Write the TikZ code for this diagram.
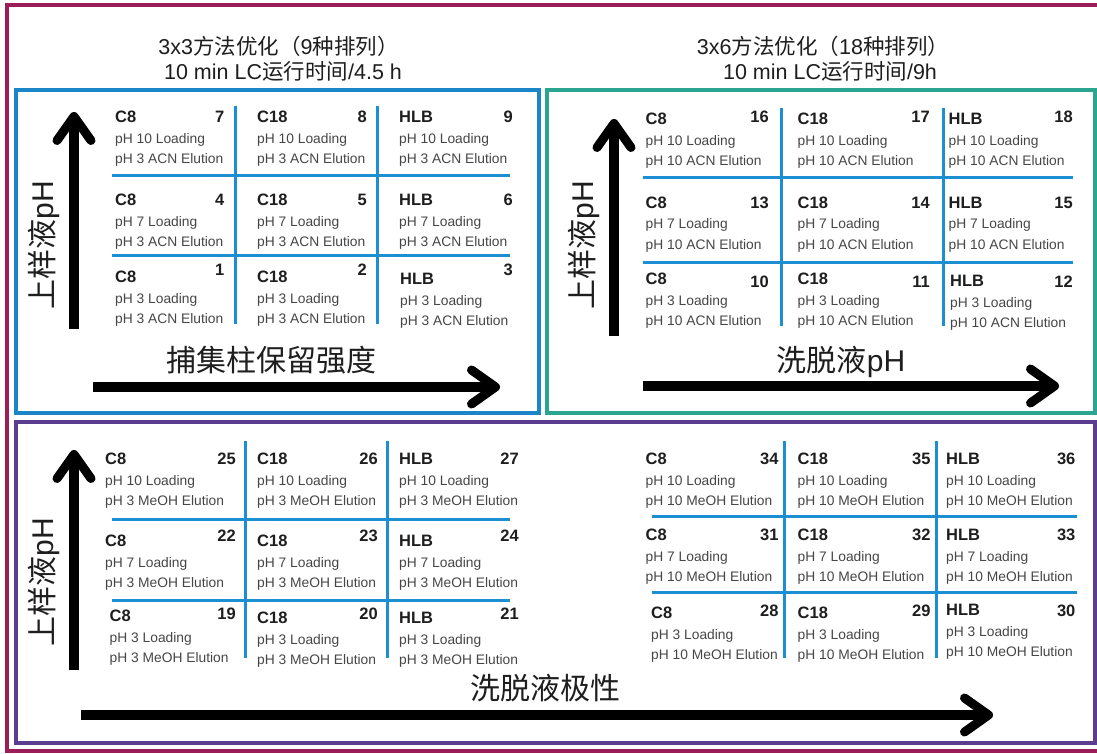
\documentclass[tikz,border=0pt]{standalone}
\usepackage{fontspec}
\setmainfont{Liberation Sans}
\newfontfamily\cjk{Noto Sans CJK SC}
\usetikzlibrary{arrows.meta}
\definecolor{frameM}{RGB}{155,29,90}
\definecolor{frameB}{RGB}{26,134,199}
\definecolor{frameT}{RGB}{42,165,143}
\definecolor{frameP}{RGB}{91,60,142}
\definecolor{gridB}{RGB}{27,143,210}
\definecolor{ink}{RGB}{30,30,30}
\definecolor{soft}{RGB}{70,70,70}
\newcommand{\cellset}[9]{%
  \node[lbl] (#1t) at (#2,#3) {#6};
  \node[num] (#1n) at (#4,#5) {#7};
  \node[txt] (#1a) at (#2,#3+22) {#8};
  \node[txt] (#1b) at (#2,#3+42) {#9};
}
\begin{document}
\begin{tikzpicture}[x=1pt,y=-1pt,
  lbl/.style={anchor=base west,inner sep=0pt,yshift=-6pt,font=\fontsize{16.5}{18}\selectfont\bfseries,text=ink},
  num/.style={anchor=base east,inner sep=0pt,yshift=-6pt,font=\fontsize{16.5}{18}\selectfont\bfseries,text=ink},
  txt/.style={anchor=base west,inner sep=0pt,yshift=-5pt,font=\fontsize{13.8}{15}\selectfont,text=soft},
  title/.style={anchor=base,inner sep=0pt,yshift=-7.7pt,font=\fontsize{21.5}{26}\selectfont,text=ink},
  axlabel/.style={anchor=base,inner sep=0pt,yshift=-11pt,font=\fontsize{30}{34}\selectfont,text=ink},
  vlabel/.style={anchor=center,inner sep=0pt,rotate=90,font=\fontsize{30}{34}\selectfont,text=ink},
  panel/.style={line width=3.2pt},
  gridline/.style={line width=3pt,draw=gridB},
  axis/.style={line width=9.5pt,draw=black,-{Straight Barb[length=24pt,width=34pt,line width=9pt,round]}}
]
\useasboundingbox (0,0) rectangle (1097,754);
\fill[white] (0,0) rectangle (1097,754);

% frames
\draw[panel,draw=frameM] (7,5) rectangle (1104,751);
\draw[panel,draw=frameB] (16,90) rectangle (539,413);
\draw[panel,draw=frameT] (547,90) rectangle (1095,413);
\draw[panel,draw=frameP] (16,422) rectangle (1095,743);

% titles
\node[title] (t1a) at (278.5,47) {3x3{\cjk 方法优化（}9{\cjk 种排列）}};
\node[title] (t1b) at (283,72) {10 min LC{\cjk 运行时间}/4.5 h};
\node[title] (t2a) at (823,47) {3x6{\cjk 方法优化（}18{\cjk 种排列）}};
\node[title] (t2b) at (830,72) {10 min LC{\cjk 运行时间}/9h};

% axis labels
\node[axlabel] (ax1) at (271,360) {\cjk 捕集柱保留强度};
\node[axlabel] (ax2) at (841,360) {{\cjk 洗脱液}pH};
\node[axlabel] (ax3) at (545.5,688) {\cjk 洗脱液极性};
\node[vlabel] (vy1) at (44,245) {{\cjk 上样液}pH};
\node[vlabel] (vy2) at (584,245) {{\cjk 上样液}pH};
\node[vlabel] (vy3) at (44,582) {{\cjk 上样液}pH};

% axis arrows
\coordinate (a1s) at (74,329);  \coordinate (a1e) at (74,112);
\coordinate (a2s) at (93,387);  \coordinate (a2e) at (500,387);
\coordinate (a3s) at (614,336); \coordinate (a3e) at (614,119);
\coordinate (a4s) at (643,386); \coordinate (a4e) at (1059,386);
\coordinate (a5s) at (74,670);  \coordinate (a5e) at (74,450);
\coordinate (a6s) at (81,715);  \coordinate (a6e) at (993,715);
\draw[axis] (a1s) -- (a1e);
\draw[axis] (a2s) -- (a2e);
\draw[axis] (a3s) -- (a3e);
\draw[axis] (a4s) -- (a4e);
\draw[axis] (a5s) -- (a5e);
\draw[axis] (a6s) -- (a6e);

% grid lines
\draw[gridline] (235.5,106) -- (235.5,324) (377.5,106) -- (377.5,324)
  (112,175.5) -- (510,175.5) (112,255) -- (510,255);
\draw[gridline] (781,108) -- (781,326) (943,108) -- (943,326)
  (643,177.5) -- (1073,177.5) (643,262) -- (1073,262);
\draw[gridline] (245,441) -- (245,658) (387,441) -- (387,658)
  (112,519) -- (510,519) (112,600.5) -- (510,600.5);
\draw[gridline] (784,441) -- (784,658) (936,441) -- (936,658)
  (652,516.7) -- (1077,516.7) (652,592) -- (1077,592);

% top-left cells
\cellset{c7}{115}{117}{224.5}{117}{C8}{7}{pH 10 Loading}{pH 3 ACN Elution}
\cellset{c8}{257}{117}{367}{117}{C18}{8}{pH 10 Loading}{pH 3 ACN Elution}
\cellset{c9}{399}{117}{513}{117}{HLB}{9}{pH 10 Loading}{pH 3 ACN Elution}
\cellset{c4}{115}{199}{224.5}{199}{C8}{4}{pH 7 Loading}{pH 3 ACN Elution}
\cellset{c5}{257}{199}{367}{199}{C18}{5}{pH 7 Loading}{pH 3 ACN Elution}
\cellset{c6}{399}{199}{513}{199}{HLB}{6}{pH 7 Loading}{pH 3 ACN Elution}
\cellset{c1}{115}{276}{224.5}{269}{C8}{1}{pH 3 Loading}{pH 3 ACN Elution}
\cellset{c2}{257}{276}{367}{269}{C18}{2}{pH 3 Loading}{pH 3 ACN Elution}
\cellset{c3}{400}{278}{513}{269}{HLB}{3}{pH 3 Loading}{pH 3 ACN Elution}

% top-right cells
\cellset{c16}{645.5}{119}{769}{117}{C8}{16}{pH 10 Loading}{pH 10 ACN Elution}
\cellset{c17}{797.5}{119}{930}{117}{C18}{17}{pH 10 Loading}{pH 10 ACN Elution}
\cellset{c18}{948.5}{119}{1073}{117}{HLB}{18}{pH 10 Loading}{pH 10 ACN Elution}
\cellset{c13}{645.5}{202}{769}{202}{C8}{13}{pH 7 Loading}{pH 10 ACN Elution}
\cellset{c14}{797.5}{202}{930}{202}{C18}{14}{pH 7 Loading}{pH 10 ACN Elution}
\cellset{c15}{948.5}{202}{1073}{202}{HLB}{15}{pH 7 Loading}{pH 10 ACN Elution}
\cellset{c10}{645.5}{278}{769}{281}{C8}{10}{pH 3 Loading}{pH 10 ACN Elution}
\cellset{c11}{797.5}{278}{930}{281}{C18}{11}{pH 3 Loading}{pH 10 ACN Elution}
\cellset{c12}{950}{280}{1073}{281}{HLB}{12}{pH 3 Loading}{pH 10 ACN Elution}

% bottom-left cells
\cellset{c25}{105}{458}{236}{458}{C8}{25}{pH 10 Loading}{pH 3 MeOH Elution}
\cellset{c26}{257}{458}{378}{458}{C18}{26}{pH 10 Loading}{pH 3 MeOH Elution}
\cellset{c27}{399}{458}{519}{458}{HLB}{27}{pH 10 Loading}{pH 3 MeOH Elution}
\cellset{c22}{105}{540}{236}{535}{C8}{22}{pH 7 Loading}{pH 3 MeOH Elution}
\cellset{c23}{257}{540}{378}{535}{C18}{23}{pH 7 Loading}{pH 3 MeOH Elution}
\cellset{c24}{399}{540}{519}{535}{HLB}{24}{pH 7 Loading}{pH 3 MeOH Elution}
\cellset{c19}{109.5}{615}{236}{613}{C8}{19}{pH 3 Loading}{pH 3 MeOH Elution}
\cellset{c20}{257}{617}{378}{613}{C18}{20}{pH 3 Loading}{pH 3 MeOH Elution}
\cellset{c21}{399}{617}{519}{613}{HLB}{21}{pH 3 Loading}{pH 3 MeOH Elution}

% bottom-right cells
\cellset{c34}{645.5}{458}{778.7}{458}{C8}{34}{pH 10 Loading}{pH 10 MeOH Elution}
\cellset{c35}{797.5}{458}{930.7}{458}{C18}{35}{pH 10 Loading}{pH 10 MeOH Elution}
\cellset{c36}{946}{458}{1075.6}{458}{HLB}{36}{pH 10 Loading}{pH 10 MeOH Elution}
\cellset{c31}{645.5}{534}{778.7}{534}{C8}{31}{pH 7 Loading}{pH 10 MeOH Elution}
\cellset{c32}{797.5}{534}{930.7}{534}{C18}{32}{pH 7 Loading}{pH 10 MeOH Elution}
\cellset{c33}{946}{534}{1075.6}{534}{HLB}{33}{pH 7 Loading}{pH 10 MeOH Elution}
\cellset{c28}{651}{612}{778.7}{610}{C8}{28}{pH 3 Loading}{pH 10 MeOH Elution}
\cellset{c29}{797.5}{612}{930.7}{610}{C18}{29}{pH 3 Loading}{pH 10 MeOH Elution}
\cellset{c30}{946}{609}{1075.6}{610}{HLB}{30}{pH 3 Loading}{pH 10 MeOH Elution}
\end{tikzpicture}
\end{document}
